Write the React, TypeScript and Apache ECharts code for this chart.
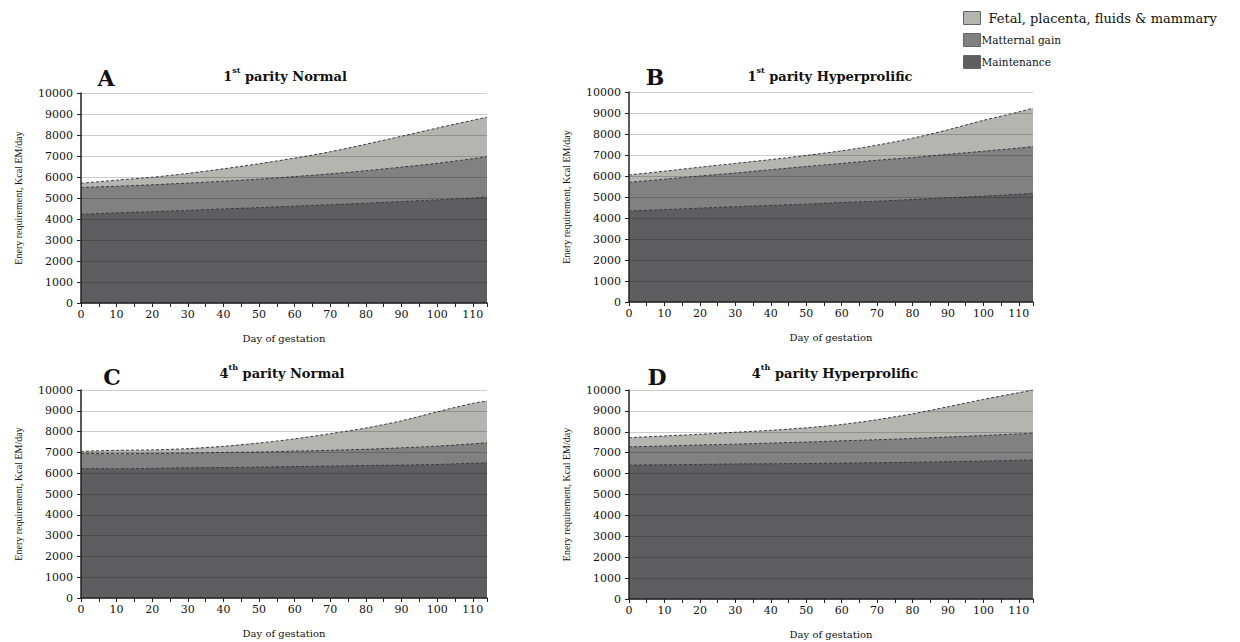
import React, { useEffect, useRef } from "react";
import * as echarts from "echarts";

const days = [0, 10, 20, 30, 40, 50, 60, 70, 80, 90, 100, 110, 114];
const yTicks = [0, 1000, 2000, 3000, 4000, 5000, 6000, 7000, 8000, 9000, 10000];
const seriesNames = ["Maintenance", "Matternal gain", "Fetal, placenta, fluids & mammary"];

// Panel A: 1st parity Normal
const aMaint = [4220, 4290, 4350, 4410, 4480, 4540, 4610, 4680, 4750, 4830, 4910, 5000, 5050];
const aMaternal = [1280, 1270, 1280, 1300, 1320, 1360, 1410, 1470, 1550, 1640, 1740, 1870, 1920];
const aFetal = [200, 290, 360, 460, 590, 730, 880, 1050, 1260, 1470, 1680, 1830, 1880];
// Panel B: 1st parity Hyperprolific
const bMaint = [4330, 4400, 4470, 4540, 4600, 4660, 4740, 4800, 4880, 4960, 5040, 5130, 5180];
const bMaternal = [1370, 1450, 1530, 1600, 1700, 1790, 1860, 1950, 2000, 2070, 2140, 2200, 2220];
const bFetal = [350, 380, 420, 460, 480, 530, 600, 720, 920, 1170, 1470, 1720, 1830];
// Panel C: 4th parity Normal
const cMaint = [6220, 6210, 6230, 6260, 6270, 6290, 6320, 6340, 6370, 6390, 6420, 6480, 6500];
const cMaternal = [730, 730, 720, 710, 730, 730, 740, 760, 780, 830, 880, 930, 960];
const cFetal = [100, 160, 170, 210, 290, 430, 590, 800, 1020, 1300, 1650, 1950, 2010];
// Panel D: 4th parity Hyperprolific
const dMaint = [6410, 6420, 6440, 6460, 6470, 6480, 6500, 6520, 6540, 6570, 6600, 6640, 6650];
const dMaternal = [870, 900, 930, 950, 990, 1030, 1070, 1100, 1140, 1180, 1220, 1260, 1280];
const dFetal = [440, 480, 510, 570, 610, 680, 780, 960, 1180, 1450, 1730, 1970, 2070];

const panels = [
  { letter: "A", num: "1", sup: "st", title: " parity Normal", data: [aMaint, aMaternal, aFetal] },
  { letter: "B", num: "1", sup: "st", title: " parity Hyperprolific", data: [bMaint, bMaternal, bFetal] },
  { letter: "C", num: "4", sup: "th", title: " parity Normal", data: [cMaint, cMaternal, cFetal] },
  { letter: "D", num: "4", sup: "th", title: " parity Hyperprolific", data: [dMaint, dMaternal, dFetal] },
];

const grids = [
  { left: 81, top: 93, width: 406, height: 210 },
  { left: 629, top: 92, width: 404, height: 210 },
  { left: 81, top: 390, width: 406, height: 208 },
  { left: 629, top: 390, width: 404, height: 209 },
];
const titlePos = [
  { tx: 280, ty: 61, lx: 101, ly: 62 },
  { tx: 825, ty: 61, lx: 650, ly: 61 },
  { tx: 277, ty: 358, lx: 107, ly: 361 },
  { tx: 830, ty: 358, lx: 652, ly: 361 },
];

const colors = ["#5e5e61", "#818181", "#b4b5b0"];
const SERIF = "'DejaVu Serif', 'Liberation Serif', serif";

export default function App() {
  const ref = useRef<HTMLDivElement>(null);
  useEffect(() => {
    if (!ref.current) return;
    const chart = echarts.init(ref.current, undefined, { renderer: "svg" });
    const series: any[] = [];
    panels.forEach((p, i) => {
      // cumulative layers (stacked by hand), drawn top layer first so lower layers paint over
      const cum: number[][] = [];
      p.data.forEach((arr, k) => {
        cum.push(arr.map((v, j) => v + (k > 0 ? cum[k - 1][j] : 0)));
      });
      for (let k = 2; k >= 0; k--) {
        series.push({
          name: seriesNames[k],
          type: "line",
          xAxisIndex: i,
          yAxisIndex: i,
          symbol: "none",
          smooth: 0.3,
          data: days.map((d, j) => [d, cum[k][j]]),
          itemStyle: { color: colors[k] },
          lineStyle: { color: "#3a3a3a", width: 1, type: [3, 2] },
          areaStyle: { color: colors[k], opacity: 1 },
          z: 4 - k,
        });
      }
    });
    const titles: any[] = [];
    panels.forEach((p, i) => {
      titles.push({
        text: "{n|" + p.num + "}{s|" + p.sup + "}{n|" + p.title + "}",
        left: titlePos[i].tx,
        top: titlePos[i].ty,
        textAlign: "center",
        textStyle: {
          rich: {
            n: { fontFamily: SERIF, fontWeight: "bold", fontSize: 13, color: "#111", lineHeight: 17, verticalAlign: "bottom" },
            s: { fontFamily: SERIF, fontWeight: "bold", fontSize: 8, color: "#111", lineHeight: 17, verticalAlign: "top" },
          },
        },
      });
      titles.push({
        text: p.letter,
        left: titlePos[i].lx,
        top: titlePos[i].ly,
        textAlign: "center",
        textStyle: { fontFamily: SERIF, fontWeight: "bold", fontSize: 22, color: "#111" },
      });
    });
    chart.setOption({
      animation: false,
      backgroundColor: "#ffffff",
      title: titles,
      legend: {
        orient: "vertical",
        left: 958,
        top: 6,
        itemWidth: 17,
        itemHeight: 13,
        itemGap: 8,
        icon: "rect",
        data: [
          { name: seriesNames[2], textStyle: { fontSize: 13, padding: [0, 0, 0, 3] } },
          { name: seriesNames[1] },
          { name: seriesNames[0] },
        ],
        itemStyle: { borderColor: "#666", borderWidth: 1 },
        lineStyle: { opacity: 0 },
        textStyle: { fontFamily: SERIF, fontSize: 10.5, color: "#111", padding: [0, 0, 0, -4] },
      },
      grid: grids.map((g) => ({ ...g, containLabel: false })),
      xAxis: grids.map((_, i) => ({
        type: "value",
        gridIndex: i,
        min: 0,
        max: 114,
        interval: 5,
        z: 10,
        name: "Day of gestation",
        nameLocation: "middle",
        nameGap: 30,
        nameTextStyle: { fontFamily: SERIF, fontSize: 10, color: "#111" },
        axisLine: { show: true, lineStyle: { color: "#222", width: 1.5 } },
        axisTick: { show: true, length: 4, lineStyle: { color: "#222" } },
        splitLine: { show: false },
        axisLabel: {
          fontFamily: SERIF,
          fontSize: 11,
          color: "#111",
          margin: 6,
          formatter: (v: number) => (v % 10 === 0 ? String(v) : ""),
        },
      })),
      yAxis: grids.map((_, i) => ({
        type: "value",
        gridIndex: i,
        min: yTicks[0],
        max: yTicks[yTicks.length - 1],
        interval: 1000,
        z: 10,
        name: "Enery requirement, Kcal EM/day",
        nameLocation: "middle",
        nameGap: 58,
        nameTextStyle: { fontFamily: "'Liberation Serif', serif", fontSize: 10, color: "#111" },
        axisLine: { show: true, lineStyle: { color: "#222", width: 1.5 } },
        axisTick: { show: true, length: 4, lineStyle: { color: "#222" } },
        splitLine: { show: true, lineStyle: { color: "rgba(0,0,0,0.2)", width: 1 } },
        axisLabel: { fontFamily: SERIF, fontSize: 11, color: "#111", margin: 8, formatter: (v: number) => String(v) },
      })),
      series,
    });
    return () => chart.dispose();
  }, []);
  return (
    <div
      ref={ref}
      style={{ position: "fixed", left: 0, top: 0, width: 1240, height: 642, background: "#fff" }}
    />
  );
}
